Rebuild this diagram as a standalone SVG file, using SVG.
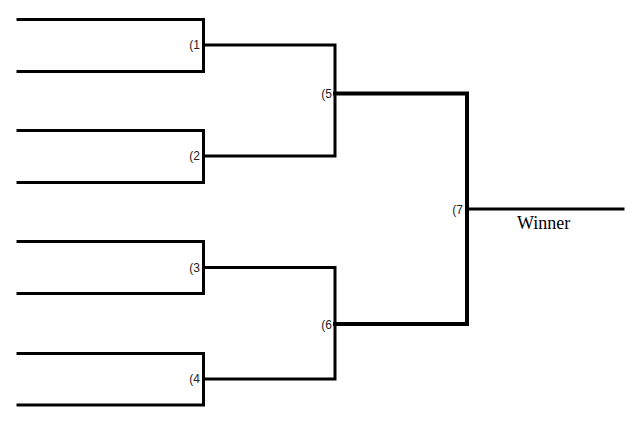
<svg xmlns="http://www.w3.org/2000/svg" width="640" height="425" viewBox="0 0 640 425">
<style>
.ln{fill:none;stroke:#000;stroke-width:3;stroke-linecap:square;stroke-linejoin:miter}
.fin{stroke-width:4}
.lbl{font-family:"Liberation Sans",Arial,sans-serif;font-size:12px;fill:#222;text-anchor:end}
.win{font-family:"Liberation Serif","Times New Roman",serif;font-size:18px;fill:#000}
</style>
<rect width="640" height="425" fill="#fff"/>
<g id="connectors">
<path class="ln" d="M18 19.5H203.5V71.5H18"/>
<path class="ln" d="M18 130.5H203.5V182.5H18"/>
<path class="ln" d="M18 241.5H203.5V293.5H18"/>
<path class="ln" d="M18 353.5H203.5V405H18"/>
<path class="ln" d="M203.5 45H335V156H203.5"/>
<path class="ln" d="M203.5 267.5H335V379H203.5"/>
<path class="ln fin" d="M335 93.5H467V324H335"/>
<path class="ln" d="M467 209H623"/>
</g>
<g id="n1"><text class="lbl" x="200" y="49">(1</text></g>
<g id="n2"><text class="lbl" x="200" y="160">(2</text></g>
<g id="n3"><text class="lbl" x="200" y="272">(3</text></g>
<g id="n4"><text class="lbl" x="200" y="383">(4</text></g>
<g id="n5"><text class="lbl" x="332" y="98">(5</text></g>
<g id="n6"><text class="lbl" x="332" y="329">(6</text></g>
<g id="n7"><text class="lbl" x="463" y="214">(7</text></g>
<g id="winner"><text class="win" x="517" y="229">Winner</text></g>
</svg>
